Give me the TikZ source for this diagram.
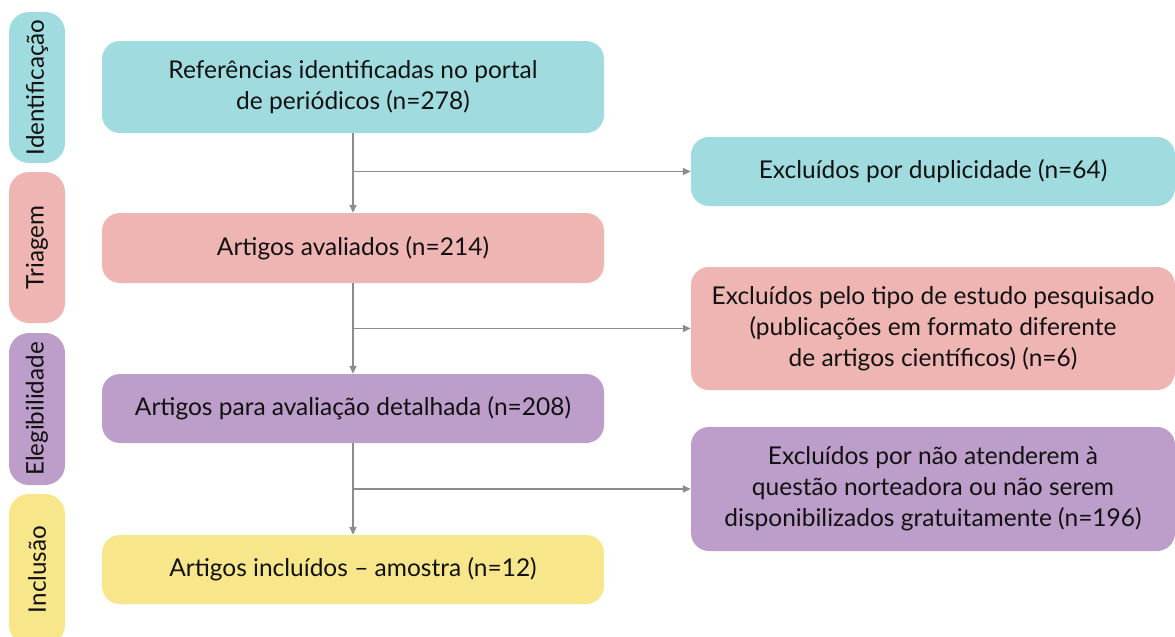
\documentclass[tikz,border=0pt]{standalone}
\usepackage{fontspec}
\setmainfont{Lato}
\usetikzlibrary{arrows.meta}
\definecolor{cI}{HTML}{A0DCDF}
\definecolor{cT}{HTML}{EFB5B3}
\definecolor{cE}{HTML}{BD9DC9}
\definecolor{cN}{HTML}{F7E68A}
\definecolor{lineg}{HTML}{8C8C8C}
\definecolor{txt}{HTML}{111111}
\tikzset{
  box/.style={rectangle, rounded corners=18pt, draw=none, text=txt, align=center,
    font=\fontsize{24.5}{31}\selectfont, inner sep=0pt},
  mainbox/.style={box, minimum width=502pt},
  sidebox/.style={box, minimum width=484pt},
  phase/.style={rectangle, rounded corners=20pt, text=txt, font=\fontsize{24.2}{26}\selectfont,
    minimum width=56pt, inner sep=0pt},
  conn/.style={draw=lineg, line width=1.8pt, -{Triangle[length=8pt,width=7pt]}}
}
\begin{document}
\begin{tikzpicture}[x=1pt,y=-1pt]
\useasboundingbox (0,0) rectangle (1175,637);
\clip (0,0) rectangle (1175,637);
% phase labels
\node[phase, fill=cI, minimum height=151pt] (pI) at (37,87.5) {\rotatebox{90}{Identificação}};
\node[phase, fill=cT, minimum height=151pt] (pT) at (37,247.5) {\rotatebox{90}{Triagem}};
\node[phase, fill=cE, minimum height=152pt] (pE) at (37,409) {\rotatebox{90}{Elegibilidade}};
\node[phase, fill=cN, minimum height=151pt] (pN) at (37,569.5) {\rotatebox{90}{Inclusão}};
% main boxes
\node[mainbox, fill=cI, minimum height=92pt] (b1) at (353,87) {Referências identificadas no portal\\de periódicos (n=278)};
\node[mainbox, fill=cT, minimum height=70pt] (b2) at (353,248) {Artigos avaliados (n=214)};
\node[mainbox, fill=cE, minimum height=69pt] (b3) at (353,408.5) {Artigos para avaliação detalhada (n=208)};
\node[mainbox, fill=cN, minimum height=69pt] (b4) at (353,569.5) {Artigos incluídos – amostra (n=12)};
% side boxes
\node[sidebox, fill=cI, minimum height=69pt] (r1) at (933,171.5) {Excluídos por duplicidade (n=64)};
\node[sidebox, fill=cT, minimum height=123pt] (r2) at (933,328.5) {Excluídos pelo tipo de estudo pesquisado\\(publicações em formato diferente\\de artigos científicos) (n=6)};
\node[sidebox, fill=cE, minimum height=124pt] (r3) at (933,489) {Excluídos por não atenderem à\\questão norteadora ou não serem\\disponibilizados gratuitamente (n=196)};
% connectors
\coordinate (j1) at (b1.south |- r1.west);
\coordinate (j2) at (b2.south |- r2.west);
\coordinate (j3) at (b3.south |- r3.west);
\draw[conn] (b1.south) -- (b2.north);
\draw[conn] (b2.south) -- (b3.north);
\draw[conn] (b3.south) -- (b4.north);
\draw[conn] (j1) -- (r1.west);
\draw[conn] (j2) -- (r2.west);
\draw[conn] (j3) -- (r3.west);
\end{tikzpicture}
\end{document}
